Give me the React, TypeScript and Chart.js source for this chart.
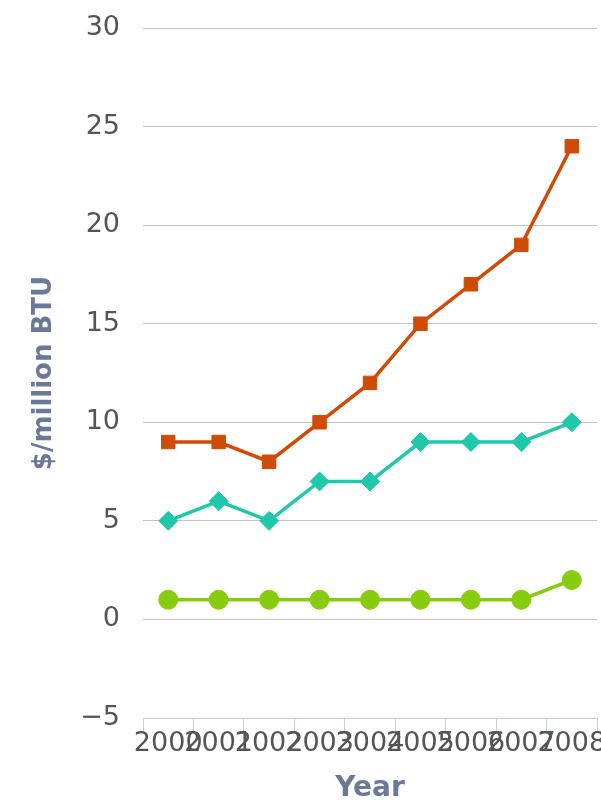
import React, { useEffect, useRef } from "react";
import { Chart, registerables } from "chart.js";

Chart.register(...registerables);

const years = ["2000", "2001", "2002", "2003", "2004", "2005", "2006", "2007", "2008"];
const orangeSeries = [9, 9, 8, 10, 12, 15, 17, 19, 24];
const tealSeries = [5, 6, 5, 7, 7, 9, 9, 9, 10];
const greenSeries = [1, 1, 1, 1, 1, 1, 1, 1, 2];
const yMin = -5;
const yMax = 30;
const yStep = 5;

export default function App() {
  const ref = useRef<HTMLCanvasElement | null>(null);

  useEffect(() => {
    if (!ref.current) return;
    const chart = new Chart(ref.current, {
      type: "line",
      data: {
        labels: years,
        datasets: [
          {
            data: orangeSeries,
            borderColor: "#d04a08",
            backgroundColor: "#d04a08",
            borderWidth: 3.5,
            pointStyle: "rect",
            pointRadius: 9.5,
            pointBorderWidth: 1,
          },
          {
            data: tealSeries,
            borderColor: "#1ec8a8",
            backgroundColor: "#1ec8a8",
            borderWidth: 3.5,
            pointStyle: "rectRot",
            pointRadius: 9.5,
            pointBorderWidth: 1,
          },
          {
            data: greenSeries,
            borderColor: "#88cc10",
            backgroundColor: "#88cc10",
            borderWidth: 3.5,
            pointStyle: "circle",
            pointRadius: 9.5,
            pointBorderWidth: 1,
          },
        ],
      },
      options: {
        animation: false,
        responsive: true,
        maintainAspectRatio: false,
        layout: { autoPadding: false, padding: { left: 0, right: 4, top: 28, bottom: 0 } },
        plugins: { legend: { display: false }, tooltip: { enabled: false } },
        scales: {
          x: {
            offset: true,
            grid: {
              offset: true,
              drawOnChartArea: false,
              drawTicks: true,
              tickLength: 14,
              color: "#c0d0e0",
            },
            border: { display: true, color: "#c0d0e0", width: 1 },
            ticks: {
              autoSkip: false,
              maxRotation: 0,
              minRotation: 0,
              padding: -4,
              color: "#555555",
              font: { family: "DejaVu Sans", size: 27 },
            },
            title: {
              display: true,
              text: "Year",
              color: "#6a7a96",
              font: { family: "DejaVu Sans", size: 28, weight: "bold", lineHeight: 1 },
              padding: { top: 0, bottom: 1 },
            },
            afterFit: (scale: any) => {
              scale.height = 86;
              scale.paddingLeft = 0;
              scale.paddingRight = 0;
            },
          },
          y: {
            min: yMin,
            max: yMax,
            grid: { color: "#c4c4c4", lineWidth: 1, drawTicks: false },
            border: { display: false },
            ticks: {
              stepSize: yStep,
              padding: 23,
              color: "#555555",
              font: { family: "DejaVu Sans", size: 27 },
              callback: (v: any) => String(v).replace("-", "\u2212"),
            },
            title: {
              display: true,
              text: "$/million BTU",
              color: "#6a7a96",
              font: { family: "DejaVu Sans", size: 26, weight: "bold", lineHeight: 1.2 },
              padding: { top: 29, bottom: 0 },
            },
            afterFit: (scale: any) => {
              scale.width = 143;
              scale.paddingTop = 0;
              scale.paddingBottom = 0;
            },
          },
        },
      },
    });
    return () => chart.destroy();
  }, []);

  return (
    <div style={{ position: "absolute", left: 0, top: 0, width: 601, height: 804, background: "#fff" }}>
      <canvas ref={ref} />
    </div>
  );
}
